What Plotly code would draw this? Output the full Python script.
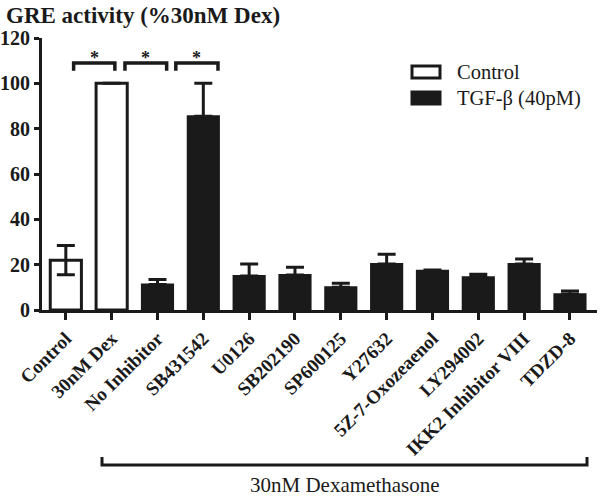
import plotly.graph_objects as go

categories = ["Control", "30nM Dex", "No Inhibitor", "SB431542", "U0126", "SB202190",
              "SP600125", "Y27632", "5Z-7-Oxozeaenol", "LY294002", "IKK2 Inhibitor VIII", "TDZD-8"]
control_cats = ["Control", "30nM Dex"]
control_vals = [22.0, 100.0]
control_err = [6.5, 0.0]
tgf_cats = ["No Inhibitor", "SB431542", "U0126", "SB202190", "SP600125", "Y27632",
            "5Z-7-Oxozeaenol", "LY294002", "IKK2 Inhibitor VIII", "TDZD-8"]
tgf_vals = [11.3, 85.5, 15.0, 15.4, 10.0, 20.3, 17.3, 14.4, 20.3, 7.0]
tgf_err = [2.2, 14.5, 5.3, 3.5, 1.8, 4.3, 0.3, 1.4, 2.2, 1.4]
y_ticks = [0, 20, 40, 60, 80, 100, 120]
sig_pairs = [("Control", "30nM Dex"), ("30nM Dex", "No Inhibitor"), ("No Inhibitor", "SB431542")]
sig_labels = ["*", "*", "*"]

SERIF = "Liberation Serif"
BLACK = "#1a1a1a"

fig = go.Figure()
fig.add_trace(go.Bar(
    x=control_cats, y=control_vals, name="Control", width=0.68,
    marker=dict(color="white", line=dict(color=BLACK, width=3)),
    error_y=dict(type="data", array=control_err, color=BLACK, thickness=3, width=9),
    showlegend=False,
))
fig.add_trace(go.Bar(
    x=tgf_cats, y=tgf_vals, name="TGF-β (40pM)", width=0.68,
    marker=dict(color=BLACK, line=dict(color=BLACK, width=2)),
    error_y=dict(type="data", array=tgf_err, color=BLACK, thickness=3, width=9, symmetric=False,
                 arrayminus=[0] * len(tgf_err)),
    showlegend=False,
))

# significance brackets (x offsets relative to category index)
idx = {c: i for i, c in enumerate(categories)}
offs = [(0.17, 0.07), (0.29, 0.2), (0.4, 0.32)]
y_bar, y_leg, y_star = 109, 105.5, 111.0
for (a, b), (oa, ob), lab in zip(sig_pairs, offs, sig_labels):
    x0 = idx[a] + oa
    x1 = idx[b] + ob
    fig.add_shape(type="path", xref="x", yref="y",
                  path=f"M {x0},{y_leg} L {x0},{y_bar} L {x1},{y_bar} L {x1},{y_leg}",
                  line=dict(color=BLACK, width=3.5))
    fig.add_annotation(x=(x0 + x1) / 2, y=y_star, xref="x", yref="y", text=f"<b>{lab}</b>",
                       showarrow=False, yanchor="middle",
                       font=dict(family=SERIF, size=18, color=BLACK))

# manual legend
W, H = 555.0, 272.0
def px(xp): return (xp - 42) / W
def py(yp): return (310 - yp) / H
legend_items = [("Control", "white"), ("TGF-β (40pM)", BLACK)]
for k, (lab, col) in enumerate(legend_items):
    yc = 72 + 26 * k
    fig.add_shape(type="rect", xref="paper", yref="paper",
                  x0=px(412), x1=px(440), y0=py(yc + 6), y1=py(yc - 6),
                  fillcolor=col, line=dict(color=BLACK, width=3))
    fig.add_annotation(x=px(455), y=py(yc), xref="paper", yref="paper", text=lab,
                       showarrow=False, xanchor="left", yanchor="middle",
                       font=dict(family=SERIF, size=20.5, color=BLACK))

# bottom group bracket
fig.add_shape(type="path", xref="paper", yref="paper",
              path=f"M {px(102)},{py(457)} L {px(102)},{py(465)} L {px(587)},{py(465)} L {px(587)},{py(457)}",
              line=dict(color=BLACK, width=3))
fig.add_annotation(x=px(345), y=py(485), xref="paper", yref="paper", text="30nM Dexamethasone",
                   showarrow=False, xanchor="center", yanchor="middle",
                   font=dict(family=SERIF, size=21, color=BLACK))

# title
fig.add_annotation(x=px(4), y=py(15), xref="paper", yref="paper", text="<b>GRE activity (%30nM Dex)</b>",
                   showarrow=False, xanchor="left", yanchor="middle",
                   font=dict(family=SERIF, size=23, color=BLACK))

fig.update_layout(
    width=600, height=496,
    margin=dict(l=42, r=3, t=38, b=186, autoexpand=False),
    plot_bgcolor="white", paper_bgcolor="white",
    barmode="overlay",
    font=dict(family=SERIF, color=BLACK),
)
fig.update_xaxes(
    type="category", categoryorder="array", categoryarray=categories,
    range=[-0.52, 11.59], showline=True, linecolor=BLACK, linewidth=3,
    ticks="outside", ticklen=7, tickwidth=2.5, tickcolor=BLACK,
    tickangle=-45, tickfont=dict(family=SERIF, size=19, color=BLACK),
    showgrid=False, zeroline=False, automargin=False,
    tickvals=categories, ticktext=[f"<b>{c}</b>" for c in categories],
)
fig.update_yaxes(
    range=[0, 120], tickvals=y_ticks, ticktext=[f"<b>{v}</b>" for v in y_ticks],
    showline=True, linecolor=BLACK, linewidth=3,
    ticks="outside", ticklen=5, tickwidth=2.5, tickcolor=BLACK,
    tickfont=dict(family=SERIF, size=20, color=BLACK),
    showgrid=False, zeroline=False, automargin=False,
)

fig.write_html("out.html", config={"displayModeBar": False},
               post_script="document.body.style.margin='0';document.body.style.overflow='hidden';")
